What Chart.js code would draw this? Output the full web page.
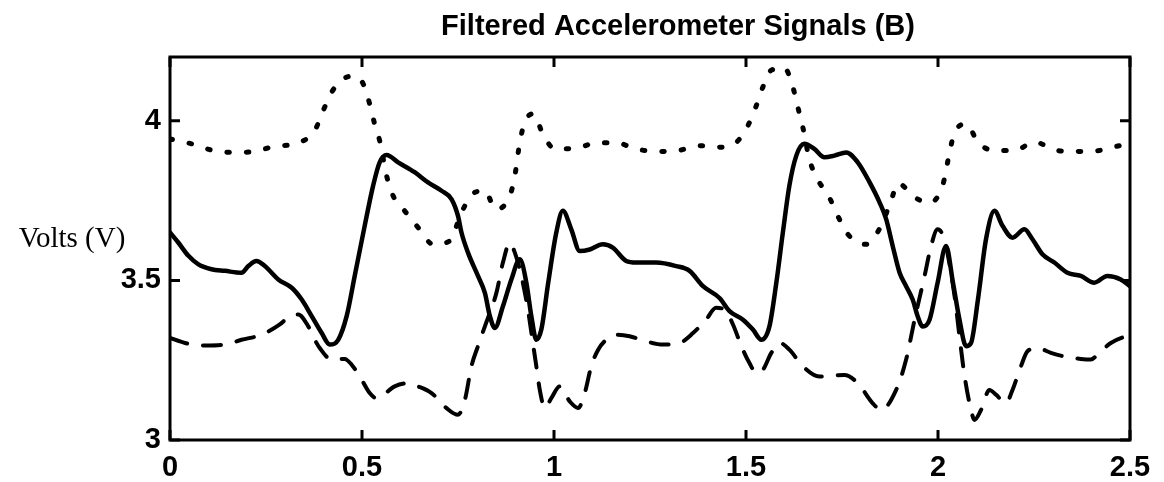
<!DOCTYPE html>
<html>
<head>
<meta charset="utf-8">
<script src="https://cdn.jsdelivr.net/npm/chart.js@4/dist/chart.umd.min.js"></script>
<style>
  html, body { margin: 0; padding: 0; background: #fff; }
  #chart-acc { display: block; }
</style>
</head>
<body>
<canvas id="chart-acc" width="1164" height="482"></canvas>
<script>
// axis ticks
const xTicks = [0, 0.5, 1, 1.5, 2, 2.5]
const yTicks = [3, 3.5, 4]

// solid signal
const tSolid = [0, 0.022, 0.048, 0.074, 0.108, 0.143, 0.186, 0.204, 0.225, 0.247, 0.282, 0.317, 0.343, 0.369, 0.395, 0.416, 0.438, 0.46, 0.481, 0.507,
    0.529, 0.546, 0.564, 0.594, 0.637, 0.672, 0.707, 0.733, 0.75, 0.759, 0.776, 0.802, 0.82, 0.833, 0.846, 0.867, 0.889, 0.911, 0.928, 0.941,
    0.954, 0.967, 0.985, 1.006, 1.023, 1.045, 1.067, 1.093, 1.127, 1.153, 1.188, 1.214, 1.266, 1.318, 1.353, 1.388, 1.431, 1.457, 1.492, 1.518,
    1.54, 1.561, 1.579, 1.596, 1.613, 1.631, 1.652, 1.678, 1.704, 1.73, 1.761, 1.791, 1.822, 1.848, 1.865, 1.882, 1.9, 1.917, 1.934, 1.947,
    1.96, 1.978, 1.999, 2.021, 2.039, 2.056, 2.073, 2.086, 2.104, 2.125, 2.147, 2.168, 2.194, 2.225, 2.246, 2.272, 2.303, 2.337, 2.372, 2.407,
    2.441, 2.476, 2.5]
const vSolid = [3.65, 3.618, 3.577, 3.55, 3.535, 3.53, 3.524, 3.545, 3.561, 3.545, 3.503, 3.477, 3.44, 3.388, 3.335, 3.299, 3.314, 3.388, 3.514, 3.671,
    3.797, 3.87, 3.893, 3.87, 3.839, 3.807, 3.781, 3.755, 3.702, 3.65, 3.587, 3.514, 3.461, 3.388, 3.351, 3.419, 3.503, 3.566, 3.493, 3.388,
    3.314, 3.346, 3.493, 3.65, 3.718, 3.66, 3.592, 3.597, 3.613, 3.603, 3.561, 3.556, 3.556, 3.545, 3.53, 3.482, 3.445, 3.404, 3.377, 3.346,
    3.314, 3.356, 3.493, 3.65, 3.797, 3.891, 3.928, 3.912, 3.886, 3.891, 3.901, 3.87, 3.807, 3.744, 3.692, 3.608, 3.524, 3.482, 3.44, 3.388,
    3.356, 3.377, 3.493, 3.608, 3.493, 3.377, 3.294, 3.304, 3.44, 3.629, 3.718, 3.671, 3.634, 3.66, 3.629, 3.582, 3.556, 3.524, 3.514, 3.493,
    3.514, 3.503, 3.482]

// dotted signal
const tDot = [0, 0.056, 0.113, 0.169, 0.219, 0.273, 0.334, 0.377, 0.399, 0.421, 0.46, 0.481, 0.503, 0.52, 0.533, 0.546, 0.564, 0.581, 0.611, 0.65,
    0.685, 0.729, 0.759, 0.794, 0.82, 0.848, 0.885, 0.898, 0.911, 0.924, 0.946, 0.971, 1.002, 1.058, 1.11, 1.162, 1.214, 1.266, 1.323, 1.379,
    1.431, 1.475, 1.505, 1.527, 1.544, 1.565, 1.6, 1.622, 1.635, 1.648, 1.665, 1.685, 1.717, 1.739, 1.765, 1.812, 1.847, 1.875, 1.897, 1.915,
    1.934, 1.978, 2.012, 2.03, 2.043, 2.074, 2.104, 2.147, 2.199, 2.251, 2.312, 2.363, 2.42, 2.472, 2.5]
const vDot = [3.943, 3.928, 3.907, 3.901, 3.904, 3.92, 3.931, 3.97, 4.032, 4.09, 4.137, 4.14, 4.116, 4.053, 3.99, 3.938, 3.828, 3.765, 3.718, 3.66,
    3.613, 3.624, 3.713, 3.776, 3.781, 3.723, 3.765, 3.828, 3.933, 3.996, 4.022, 3.959, 3.912, 3.914, 3.931, 3.931, 3.912, 3.904, 3.907, 3.922,
    3.917, 3.933, 3.985, 4.048, 4.106, 4.158, 4.166, 4.106, 4.043, 3.98, 3.88, 3.82, 3.76, 3.702, 3.645, 3.613, 3.66, 3.74, 3.805, 3.79,
    3.765, 3.744, 3.797, 3.9, 3.964, 3.99, 3.933, 3.907, 3.907, 3.933, 3.907, 3.904, 3.907, 3.922, 3.928]

// dashed signal
const tDash = [0, 0.039, 0.091, 0.143, 0.186, 0.239, 0.286, 0.312, 0.334, 0.36, 0.377, 0.39, 0.421, 0.455, 0.473, 0.499, 0.52, 0.538, 0.585, 0.62,
    0.646, 0.681, 0.72, 0.75, 0.768, 0.785, 0.802, 0.82, 0.85, 0.867, 0.885, 0.898, 0.915, 0.932, 0.945, 0.954, 0.963, 0.976, 0.993, 1.015,
    1.041, 1.063, 1.08, 1.097, 1.115, 1.136, 1.162, 1.197, 1.24, 1.284, 1.327, 1.362, 1.396, 1.422, 1.444, 1.466, 1.488, 1.509, 1.527, 1.544,
    1.566, 1.588, 1.613, 1.648, 1.691, 1.756, 1.791, 1.83, 1.852, 1.891, 1.917, 1.939, 1.965, 1.982, 1.999, 2.016, 2.042, 2.055, 2.068, 2.086,
    2.095, 2.112, 2.134, 2.151, 2.177, 2.194, 2.216, 2.233, 2.259, 2.294, 2.328, 2.372, 2.398, 2.415, 2.45, 2.5]
const vDash = [3.32, 3.304, 3.296, 3.299, 3.314, 3.33, 3.362, 3.388, 3.393, 3.356, 3.314, 3.288, 3.252, 3.254, 3.236, 3.189, 3.147, 3.131, 3.168, 3.178,
    3.168, 3.147, 3.1, 3.079, 3.126, 3.231, 3.294, 3.356, 3.461, 3.556, 3.618, 3.587, 3.514, 3.409, 3.304, 3.231, 3.157, 3.1, 3.131, 3.168,
    3.121, 3.1, 3.147, 3.231, 3.283, 3.314, 3.33, 3.325, 3.309, 3.299, 3.304, 3.335, 3.377, 3.414, 3.409, 3.362, 3.294, 3.241, 3.21, 3.22,
    3.273, 3.304, 3.283, 3.231, 3.199, 3.204, 3.178, 3.115, 3.094, 3.157, 3.252, 3.377, 3.514, 3.608, 3.66, 3.629, 3.461, 3.335, 3.21, 3.094,
    3.063, 3.094, 3.157, 3.142, 3.115, 3.157, 3.231, 3.278, 3.288, 3.273, 3.262, 3.254, 3.252, 3.267, 3.304, 3.33]

const zip = (t, v) => t.map((x, i) => ({ x: x, y: v[i] }))

const tickFont = { family: 'Liberation Sans, Arial, sans-serif', size: 29, weight: 'bold' }

// box, inward tick marks, title and y label (MATLAB look)
const frame = {
    id: 'frame',
    afterDraw(chart) {
        const ctx = chart.ctx
        const a = chart.chartArea
        const xs = chart.scales.x
        const ys = chart.scales.y
        ctx.save()
        ctx.strokeStyle = '#000'
        ctx.lineWidth = 3
        ctx.strokeRect(a.left, a.top, a.right - a.left, a.bottom - a.top)
        ctx.beginPath()
        xTicks.forEach(v => {
            const px = xs.getPixelForValue(v)
            ctx.moveTo(px, a.bottom); ctx.lineTo(px, a.bottom - 10)
            ctx.moveTo(px, a.top); ctx.lineTo(px, a.top + 10)
        })
        yTicks.forEach(v => {
            const py = ys.getPixelForValue(v)
            ctx.moveTo(a.left, py); ctx.lineTo(a.left + 10, py)
            ctx.moveTo(a.right, py); ctx.lineTo(a.right - 10, py)
        })
        ctx.stroke()

        ctx.fillStyle = '#000'
        ctx.textAlign = 'center'
        ctx.textBaseline = 'alphabetic'
        ctx.font = 'bold 29px "Liberation Sans", Arial, sans-serif'
        ctx.fillText('Filtered Accelerometer Signals (B)', 678, 35)
        ctx.font = '29px "Liberation Serif", "Times New Roman", serif'
        ctx.fillText('Volts (V)', 72, 247)
        ctx.restore()
    }
}

const ctx_acc = document.getElementById('chart-acc')
const chart_acc = new Chart(ctx_acc, {
    type: 'line',
    data: {
        datasets: [
            {
                label: 'Dotted',
                data: zip(tDot, vDot),
                borderColor: '#000',
                borderWidth: 5,
                borderDash: [2.5, 17],
                borderCapStyle: 'round'
            },
            {
                label: 'Dashed',
                data: zip(tDash, vDash),
                borderColor: '#000',
                borderWidth: 4,
                borderDash: [18, 16],
                borderCapStyle: 'round'
            },
            {
                label: 'Solid',
                data: zip(tSolid, vSolid),
                borderColor: '#000',
                borderWidth: 4.5,
                borderCapStyle: 'round'
            }
        ]
    },
    options: {
        responsive: false,
        animation: false,
        devicePixelRatio: 1,
        elements: {
            point: { radius: 0 },
            line: { cubicInterpolationMode: 'monotone', borderJoinStyle: 'round' }
        },
        layout: { padding: { top: 57, right: 34, bottom: 0, left: 0 } },
        plugins: {
            legend: { display: false },
            tooltip: { enabled: false },
            title: { display: false }
        },
        scales: {
            x: {
                type: 'linear',
                min: 0,
                max: 2.5,
                afterBuildTicks: s => { s.ticks = xTicks.map(v => ({ value: v })) },
                afterFit: s => { s.height = 42 },
                grid: { display: false, drawTicks: false },
                border: { display: false },
                ticks: { color: '#000', font: tickFont, padding: 11, maxRotation: 0, callback: v => String(v) }
            },
            y: {
                min: 3,
                max: 4.2,
                afterBuildTicks: s => { s.ticks = yTicks.map(v => ({ value: v })) },
                afterFit: s => { s.width = 170 },
                grid: { display: false, drawTicks: false },
                border: { display: false },
                ticks: { color: '#000', font: tickFont, padding: 9, callback: v => String(v) }
            }
        }
    },
    plugins: [frame]
})
</script>
</body>
</html>
